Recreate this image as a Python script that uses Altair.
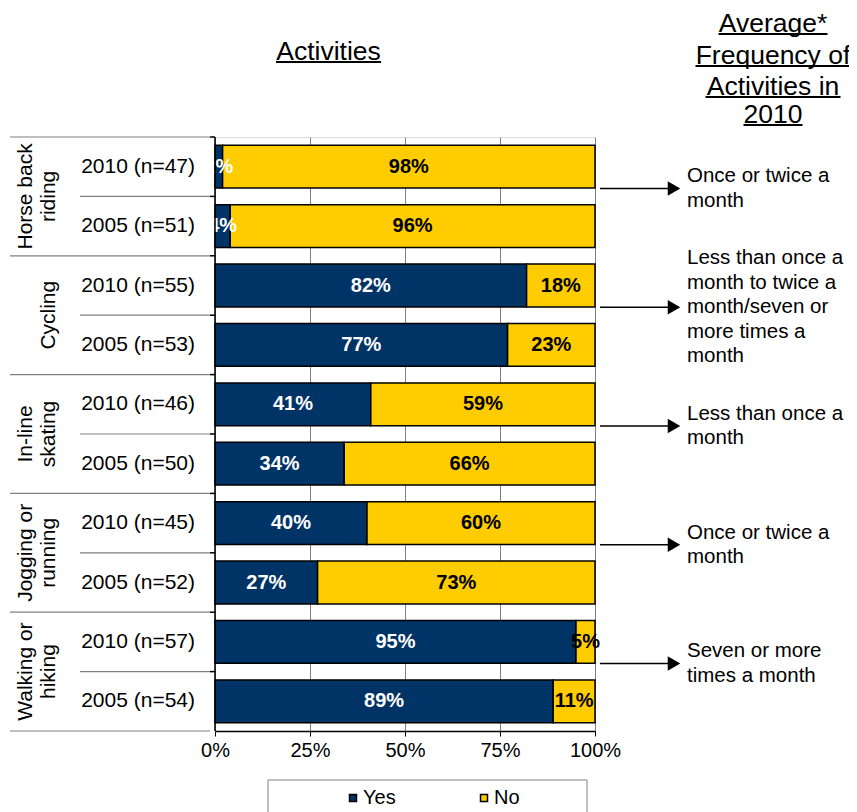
import altair as alt
import pandas as pd

# ---------------- data ----------------
groups = ["Horse back riding", "Cycling", "In-line skating", "Jogging or running", "Walking or hiking"]
group_lines = [["Horse back", "riding"], ["Cycling"], ["In-line", "skating"],
               ["Jogging or", "running"], ["Walking or", "hiking"]]
row_labels = ["2010 (n=47)", "2005 (n=51)", "2010 (n=55)", "2005 (n=53)", "2010 (n=46)",
              "2005 (n=50)", "2010 (n=45)", "2005 (n=52)", "2010 (n=57)", "2005 (n=54)"]
yes_pct = [2, 4, 82, 77, 41, 34, 40, 27, 95, 89]
no_pct = [98, 96, 18, 23, 59, 66, 60, 73, 5, 11]
frequency_lines = [
    ["Once or twice a", "month"],
    ["Less than once a", "month to twice a", "month/seven or", "more times a", "month"],
    ["Less than once a", "month"],
    ["Once or twice a", "month"],
    ["Seven or more", "times a month"],
]
responses = ["Yes", "No"]
colors = ["#003366", "#FFCC00"]
x_ticks = [0, 25, 50, 75, 100]
title_left = "Activities"
title_right = ["Average*", "Frequency of", "Activities in", "2010"]

# ---------------- tables ----------------
FONT = "Liberation Sans, Arial, Helvetica, sans-serif"
W, H = 380, 594
GRAY = "#808080"
LH_FREQ = 24.5

recs = []
for i, lab in enumerate(row_labels):
    y, n = yes_pct[i], no_pct[i]
    recs.append(dict(row=lab, resp="Yes", start=0, end=y, mid=y / 2, label=f"{y}%"))
    recs.append(dict(row=lab, resp="No", start=y, end=y + n, mid=y + n / 2, label=f"{n}%"))
bars_df = pd.DataFrame(recs)

rows_df = pd.DataFrame({"row": row_labels, "kind": ["group", "sub"] * len(groups)})
last_df = pd.DataFrame({"row": [row_labels[-1]]})
grp_df = pd.DataFrame({"row": row_labels[0::2], "lines": group_lines})
freq_df = pd.DataFrame({"row": row_labels[1::2], "freq": frequency_lines})

yscale = alt.Scale(domain=row_labels, paddingInner=0, paddingOuter=0)
xscale = alt.Scale(domain=[0, 100], nice=False, zero=True)


def Y(**kw):
    return alt.Y("row:N", scale=yscale, axis=None, sort=row_labels, **kw)


bars = alt.Chart(bars_df).mark_bar(
    height=alt.RelativeBandSize(band=0.72), stroke="black", strokeWidth=1.5
).encode(
    x=alt.X("start:Q", scale=xscale, title=None,
            axis=alt.Axis(values=x_ticks, labelExpr="datum.value + '%'", grid=True,
                          gridColor=GRAY, gridWidth=1, domainColor="black", domainWidth=1.5,
                          tickColor="black", tickSize=5, labelFontSize=20, labelFont=FONT,
                          labelColor="black", labelPadding=4, labelFlush=False)),
    x2="end:Q",
    y=Y(),
    color=alt.Color("resp:N", scale=alt.Scale(domain=responses, range=colors),
                    legend=alt.Legend(orient="none", legendX=128, legendY=651, direction="horizontal",
                                      title=None, symbolType="square", symbolSize=49,
                                      symbolStrokeColor="black", symbolStrokeWidth=1.5,
                                      labelFontSize=20, labelFont=FONT, labelColor="black",
                                      columnPadding=78, labelOffset=0, padding=0)),
    order=alt.Order("start:Q"),
)

pct_labels = alt.Chart(bars_df).mark_text(
    font=FONT, fontSize=20, fontWeight="bold", baseline="middle"
).encode(
    x=alt.X("mid:Q", scale=xscale),
    y=Y(),
    text="label:N",
    color=alt.condition("datum.resp == 'Yes'", alt.value("white"), alt.value("black")),
)

row_text = alt.Chart(rows_df).mark_text(
    font=FONT, fontSize=21, align="right", baseline="middle", color="black"
).encode(y=Y(), x=alt.value(-20), text="row:N")

sep_group = alt.Chart(rows_df).transform_filter("datum.kind == 'group'").mark_rule(
    color=GRAY, strokeWidth=1.2
).encode(y=Y(bandPosition=0), x=alt.value(-205), x2=alt.value(-5))
sep_sub = alt.Chart(rows_df).transform_filter("datum.kind == 'sub'").mark_rule(
    color=GRAY, strokeWidth=1.2
).encode(y=Y(bandPosition=0), x=alt.value(-135), x2=alt.value(-5))
sep_bottom = alt.Chart(last_df).mark_rule(color=GRAY, strokeWidth=1.2).encode(
    y=Y(bandPosition=1), x=alt.value(-205), x2=alt.value(-5))
ticks_left = alt.Chart(rows_df).mark_rule(color="black", strokeWidth=1.5).encode(
    y=Y(bandPosition=0), x=alt.value(-5), x2=alt.value(0))
left_axis = alt.Chart(last_df).mark_rule(color="black", strokeWidth=1.5).encode(
    x=alt.value(0), y=alt.value(0), y2=alt.value(H))

group_text_2 = alt.Chart(grp_df).transform_filter("length(datum.lines) > 1").mark_text(
    font=FONT, fontSize=21, angle=270, align="center", baseline="bottom", lineHeight=23, color="black"
).encode(y=Y(bandPosition=1), x=alt.value(-179), text="lines")
group_text_1 = alt.Chart(grp_df).transform_filter("length(datum.lines) == 1").mark_text(
    font=FONT, fontSize=21, angle=270, align="center", baseline="bottom", lineHeight=23, color="black"
).encode(y=Y(bandPosition=1), x=alt.value(-156), text="lines")

arrow_line = alt.Chart(freq_df).mark_rule(color="black", strokeWidth=1.5, yOffset=-8).encode(
    y=Y(bandPosition=0), x=alt.value(385), x2=alt.value(455))
arrow_head = alt.Chart(freq_df).mark_point(
    shape="triangle-right", filled=True, color="black", size=210, opacity=1, yOffset=-8
).encode(y=Y(bandPosition=0), x=alt.value(459))
freq_text = alt.Chart(freq_df).transform_calculate(
    off=f"-(length(datum.freq) - 1) * {LH_FREQ / 2} - 8"
).mark_text(
    font=FONT, fontSize=20.5, align="left", baseline="middle", lineHeight=LH_FREQ, color="black"
).encode(y=Y(bandPosition=0), yOffset=alt.YOffset("off:Q", scale=None),
         x=alt.value(472), text="freq")

# titles with underlines
tl_df = pd.DataFrame({"t": [title_left]})
title_layers = [
    alt.Chart(tl_df).mark_text(font=FONT, fontSize=26.5, align="center", baseline="alphabetic",
                               color="black").encode(x=alt.value(113.5), y=alt.value(-77), text="t:N"),
    alt.Chart(tl_df).mark_rule(color="black", strokeWidth=2).encode(
        x=alt.value(61), x2=alt.value(166), y=alt.value(-75)),
]
tr_base = [-105, -73, -42, -14]
tr_half = [54.5, 77.5, 67.5, 29.5]
for line, b, hw in zip(title_right, tr_base, tr_half):
    d = pd.DataFrame({"t": [line]})
    title_layers.append(alt.Chart(d).mark_text(font=FONT, fontSize=26.5, align="center",
                                               baseline="alphabetic", color="black").encode(
        x=alt.value(558), y=alt.value(b), text="t:N"))
    title_layers.append(alt.Chart(d).mark_rule(color="black", strokeWidth=2).encode(
        x=alt.value(558 - hw), x2=alt.value(558 + hw), y=alt.value(b + 2)))

legend_box = alt.Chart(tl_df).mark_rect(fill="white", stroke=GRAY, strokeWidth=1).encode(
    x=alt.value(53), x2=alt.value(372), y=alt.value(643), y2=alt.value(720))

chart = alt.layer(
    legend_box, sep_group, sep_sub, sep_bottom, bars, pct_labels, ticks_left, left_axis,
    row_text, group_text_2, group_text_1, arrow_line, arrow_head, freq_text, *title_layers
).properties(
    width=W, height=H,
    padding={"left": 207, "top": 129, "right": 254, "bottom": 81},
    autosize=alt.AutoSizeParams(type="none"),
).configure_view(stroke=None).configure(background="white")

chart.save("out.html", embed_options={"renderer": "svg", "actions": False})
